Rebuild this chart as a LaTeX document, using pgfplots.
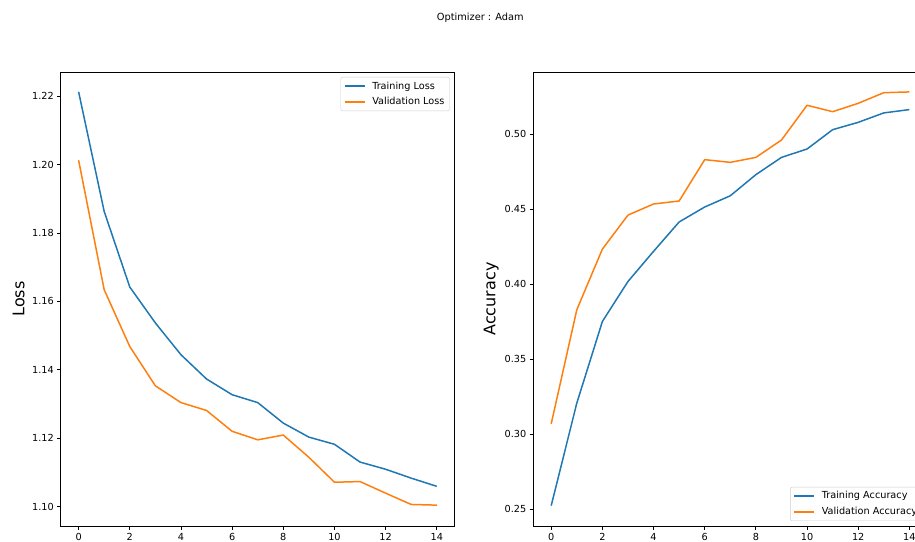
\documentclass[border=0pt]{standalone}
\usepackage{fontspec}
\setmainfont{DejaVu Sans}
\usepackage{pgfplots}
\usepackage{pgfplotstable}
\pgfplotsset{compat=1.18}
\definecolor{mplblue}{HTML}{1F77B4}
\definecolor{mplorange}{HTML}{FF7F0E}

\pgfplotstableread{
ep trainloss valloss
0 1.2213 1.2013
1 1.1863 1.1634
2 1.1642 1.1468
3 1.1537 1.1353
4 1.1444 1.1304
5 1.1373 1.1281
6 1.1327 1.1220
7 1.1304 1.1195
8 1.1244 1.1209
9 1.1203 1.1144
10 1.1182 1.1071
11 1.1130 1.1073
12 1.1109 1.1039
13 1.1083 1.1006
14 1.1059 1.1004
}\losstable

\pgfplotstableread{
ep trainacc valacc
0 0.2522 0.3068
1 0.3206 0.3829
2 0.3751 0.4234
3 0.4018 0.4461
4 0.4219 0.4535
5 0.4415 0.4555
6 0.4515 0.4831
7 0.4590 0.4813
8 0.4731 0.4846
9 0.4846 0.4962
10 0.4902 0.5194
11 0.5031 0.5151
12 0.5080 0.5207
13 0.5143 0.5278
14 0.5165 0.5283
}\acctable

\pgfplotsset{
  mpl/.style={
    scale only axis, width=394bp, height=454bp,
    anchor=south west,
    xmin=-0.7, xmax=14.7,
    xtick={0,2,...,14},
    tick pos=left, tick align=outside, major tick length=3.5bp,
    every tick/.style={black, line width=0.8bp},
    axis line style={line width=0.8bp},
    tick label style={font=\fontsize{9.7bp}{11bp}\selectfont},
    /pgf/number format/assume math mode=true,
    scaled y ticks=false,
    yticklabel style={/pgf/number format/fixed, /pgf/number format/fixed zerofill, /pgf/number format/precision=2},
    ylabel style={font=\fontsize{16bp}{18bp}\selectfont, at={([xshift=-42bp]rel axis cs:0,0.5)}, anchor=center},
    legend cell align=left,
    legend style={font=\fontsize{9.7bp}{11bp}\selectfont, draw=black!20, rounded corners=2bp,
      fill=white, fill opacity=0.8, text opacity=1, draw opacity=1,
      inner xsep=3bp, inner ysep=2.5bp, row sep=3bp,
      /tikz/every odd column/.append style={column sep=5bp}},
    legend image code/.code={\draw[##1, line width=1.5bp] (0bp,0bp) -- (20bp,0bp);},
    every axis plot/.append style={line width=1.5bp, line join=round},
  }
}

\begin{document}
\begin{tikzpicture}
\path[use as bounding box] (0,0) rectangle (915bp,542bp);
\clip (0,0) rectangle (915bp,542bp);
\node[font=\fontsize{9.8bp}{11bp}\selectfont] at (480.3bp,523.7bp) {Optimizer : Adam};

\begin{axis}[mpl, at={(60.7bp,16bp)},
  ymin=1.0943, ymax=1.2271,
  ytick={1.10,1.12,...,1.22},
  ylabel={Loss},
  legend style={at={([xshift=-5bp,yshift=-5bp]rel axis cs:1,1)}, anchor=north east}]
\addplot[mplblue] table[x=ep, y=trainloss] {\losstable};
\addlegendentry{Training Loss}
\addplot[mplorange] table[x=ep, y=valloss] {\losstable};
\addlegendentry{Validation Loss}
\end{axis}

\begin{axis}[mpl, at={(533.3bp,16bp)},
  ymin=0.2386, ymax=0.5416,
  ytick={0.25,0.30,...,0.50},
  ylabel={Accuracy},
  legend style={at={([xshift=-5bp,yshift=5bp]rel axis cs:1,0)}, anchor=south east}]
\addplot[mplblue] table[x=ep, y=trainacc] {\acctable};
\addlegendentry{Training Accuracy}
\addplot[mplorange] table[x=ep, y=valacc] {\acctable};
\addlegendentry{Validation Accuracy}
\end{axis}
\end{tikzpicture}
\end{document}
